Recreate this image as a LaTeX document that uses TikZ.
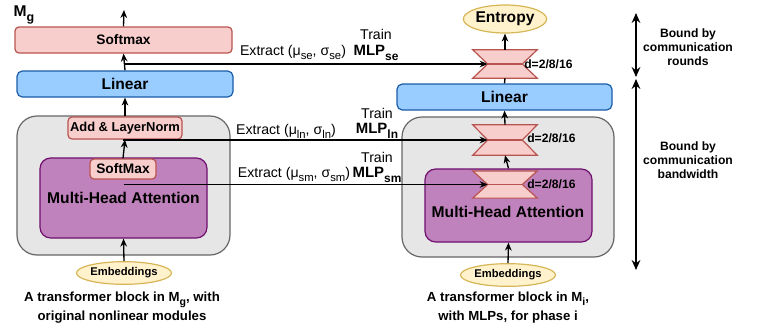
\documentclass[tikz,border=0pt]{standalone}
\usepackage{fontspec}
\setmainfont{Liberation Sans}
\usetikzlibrary{arrows.meta,calc,shapes.geometric}

\definecolor{pinkfill}{HTML}{F8CECC}
\definecolor{pinkline}{HTML}{B85450}
\definecolor{bluefill}{HTML}{99CCFF}
\definecolor{blueline}{HTML}{1A5CA8}
\definecolor{purpfill}{HTML}{C082BC}
\definecolor{purpline}{HTML}{6E106E}
\definecolor{grayfill}{HTML}{E6E6E6}
\definecolor{grayline}{HTML}{666666}
\definecolor{yelfill}{HTML}{FFF2CC}
\definecolor{yelline}{HTML}{D6B656}

\newcommand{\lowtxt}[1]{\raisebox{-0.55ex}{\scalebox{0.8}{#1}}}
% hourglass (MLP) drawn over an empty node
\newcommand{\hglass}[1]{%
  \draw[hgline] (#1.north west) -- (#1.north east) -- ([xshift=13pt]#1.center)
    -- (#1.south east) -- (#1.south west) -- ([xshift=-13pt]#1.center) -- cycle;
  \draw[hgline] ([xshift=-13pt]#1.center) -- ([xshift=13pt]#1.center);
  \coordinate (#1-l) at ([xshift=-13pt]#1.center);}

\tikzset{
  pinkbox/.style={draw=pinkline, fill=pinkfill, line width=0.9pt, rounded corners=3pt, inner sep=0pt},
  bluebox/.style={draw=blueline, fill=bluefill, line width=0.9pt, rounded corners=4pt, inner sep=0pt},
  graybox/.style={draw=grayline, fill=grayfill, line width=0.9pt, rounded corners=15pt, inner sep=0pt},
  purpbox/.style={draw=purpline, fill=purpfill, line width=0.9pt, rounded corners=8pt, inner sep=0pt},
  yelell/.style={ellipse, draw=yelline, fill=yelfill, line width=0.9pt, inner sep=0pt},
  hgnode/.style={minimum width=48pt, inner sep=0pt},
  hgline/.style={draw=pinkline, fill=pinkfill, line width=0.9pt},
  arr/.style={-{Stealth[length=6pt,width=5pt]}, line width=1pt},
  dblarr/.style={{Stealth[length=7.5pt,width=6.5pt]}-{Stealth[length=7.5pt,width=6.5pt]}, line width=1.1pt},
  bigtxt/.style={font=\fontsize{11.7}{13}\selectfont\bfseries},
  midtxt/.style={font=\fontsize{10.3}{12}\selectfont\bfseries},
  lntxt/.style={font=\fontsize{9.7}{11}\selectfont\bfseries},
  embtxt/.style={font=\fontsize{8.4}{10}\selectfont\bfseries},
  dtxt/.style={font=\fontsize{9.1}{10}\selectfont\bfseries, inner sep=0pt},
  lbltxt/.style={font=\fontsize{10.6}{12}\selectfont, inner sep=0pt},
  mlptxt/.style={font=\fontsize{11.2}{12}\selectfont\bfseries, inner sep=0pt},
  captxt/.style={font=\fontsize{9.9}{14}\selectfont\bfseries, align=center, inner sep=0pt},
  sidetxt/.style={font=\fontsize{9.1}{10.6}\selectfont\bfseries, align=center, inner sep=0pt}
}

\begin{document}
\begin{tikzpicture}[x=0.75pt,y=-0.75pt]
\useasboundingbox (0,0) rectangle (758,322);

% left: original block
\node[graybox, minimum width=159.75pt, minimum height=104.25pt] (grayL) at (123.5,185.5) {};
\node[purpbox, minimum width=125.25pt, minimum height=60pt, bigtxt] (mhaL) at (123.5,198) {Multi-Head Attention};
\node[pinkbox, minimum width=49.5pt, minimum height=15pt, midtxt] (smL) at (123,169) {SoftMax};
\node[pinkbox, minimum width=85.5pt, minimum height=16.5pt, lntxt] (lnL) at (125,128) {Add \& LayerNorm};
\node[bluebox, minimum width=162pt, minimum height=19.5pt, bigtxt] (linL) at (125,84) {Linear};
\node[pinkbox, minimum width=162.75pt, minimum height=19.5pt, midtxt] (softL) at (123.5,40) {Softmax};
\node[yelell, minimum width=53pt, minimum height=17pt, embtxt] (embL) at (124,273) {Embeddings};
\node[bigtxt, inner sep=0pt] (mg) at (24,15) {M\lowtxt{g}};
\coordinate (outL) at (124,10);
\node[captxt] (capL) at (122,307.5) {A transformer block in M\lowtxt{g}, with\\original nonlinear modules};

\draw[arr] (softL.north) -- (outL);
\draw[arr] (linL.north) -- (softL.south);
\draw[arr] (lnL.north) -- (linL.south);
\draw[arr] (smL.north) -- (lnL.south);
\draw[arr] (embL.north) -- (mhaL.south);

% right: block with MLPs
\node[graybox, minimum width=159pt, minimum height=105pt] (grayR) at (508,187) {};
\node[purpbox, minimum width=125.25pt, minimum height=54.75pt] (mhaR) at (508.5,205.5) {};
\node[bigtxt, inner sep=0pt] (mhaRt) at (508,212) {Multi-Head Attention};
\node[bluebox, minimum width=161.25pt, minimum height=19.5pt, bigtxt] (linR) at (504.5,97) {Linear};
\node[yelell, minimum width=58.5pt, minimum height=21pt, bigtxt] (entR) at (505,19) {Entropy};
\node[yelell, minimum width=53pt, minimum height=17pt, embtxt] (embR) at (508,275) {Embeddings};
\node[hgnode, minimum height=21pt] (hgA) at (505,64) {};
\node[hgnode, minimum height=22.5pt] (hgB) at (505,140) {};
\node[hgnode, minimum height=20pt] (hgC) at (505,184.5) {};
\hglass{hgA}
\hglass{hgB}
\hglass{hgC}
\node[dtxt, anchor=west] (dA) at (524,64) {d=2/8/16};
\node[dtxt, anchor=west] (dB) at (527,138) {d=2/8/16};
\node[dtxt, anchor=west] (dC) at (527,184) {d=2/8/16};
\node[captxt] (capR) at (508,307.5) {A transformer block in M\lowtxt{i},\\with MLPs, for phase i};

\draw[arr] (hgA.north) -- (entR.south);
\draw[line width=1pt] (hgA.south) -- (linR.north);
\draw[arr] (hgB.north) -- (linR.south);
\draw[arr] (mhaR.north) -- (hgB.south);
\draw[arr] (embR.north) -- (mhaR.south);

% extract / train links
\node[lbltxt] (exA) at (293,52) {Extract (μ\lowtxt{se}, σ\lowtxt{se})};
\node[lbltxt] (trA) at (376,34) {Train};
\node[mlptxt] (mlpA) at (376,53) {MLP\lowtxt{se}};
\node[lbltxt] (exB) at (286,131) {Extract (μ\lowtxt{ln}, σ\lowtxt{ln})};
\node[lbltxt] (trB) at (377,113) {Train};
\node[mlptxt] (mlpB) at (377,131) {MLP\lowtxt{ln}};
\node[lbltxt] (exC) at (294,174) {Extract (μ\lowtxt{sm}, σ\lowtxt{sm})};
\node[lbltxt] (trC) at (377,157) {Train};
\node[mlptxt] (mlpC) at (377,175) {MLP\lowtxt{sm}};

\draw[arr] (linL.north |- hgA.center) -- (hgA-l);
\draw[arr] (smL.north |- hgB.center) -- (hgB-l);
\draw[arr] (mhaL.center |- hgC.center) -- (hgC-l);

% bounds
\coordinate (bA) at (636,13);
\coordinate (bB) at (636,77);
\coordinate (bC) at (636,79);
\coordinate (bD) at (636,270);
\draw[dblarr] (bA) -- (bB);
\draw[dblarr] (bC) -- (bD);
\node[sidetxt] (rnd) at (688,47) {Bound by\\communication\\rounds};
\node[sidetxt] (bw) at (688,160) {Bound by\\communication\\bandwidth};
\end{tikzpicture}
\end{document}
